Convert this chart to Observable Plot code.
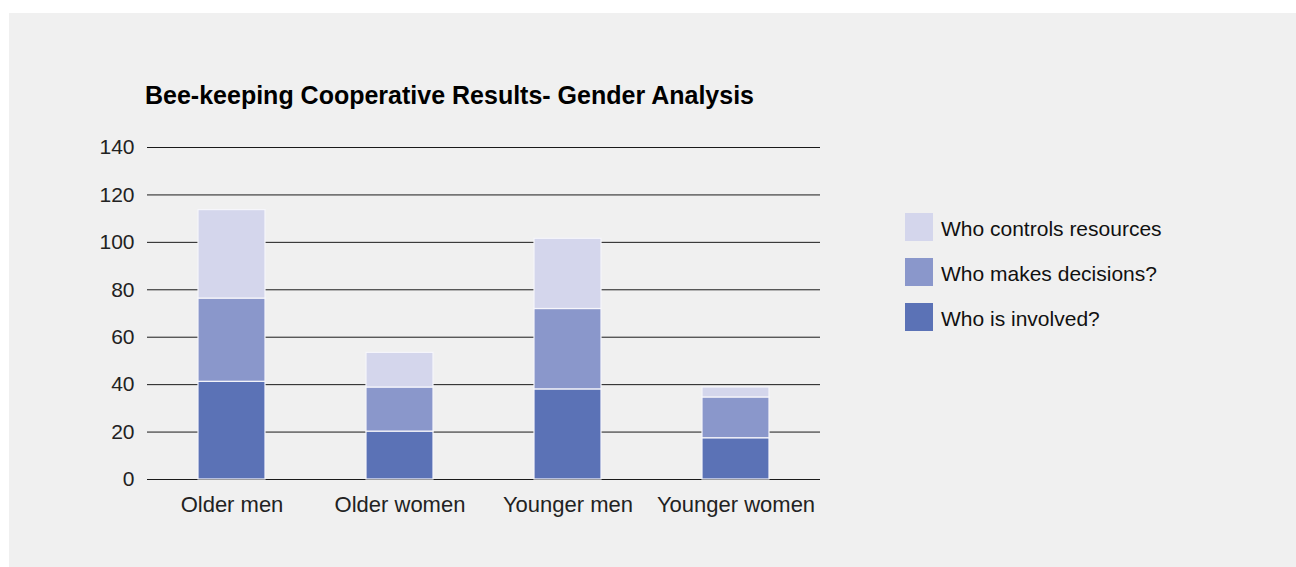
<!DOCTYPE html>
<html>
<head>
<meta charset="utf-8">
<script src="https://cdn.jsdelivr.net/npm/d3@7"></script>
<script src="https://cdn.jsdelivr.net/npm/@observablehq/plot@0.6"></script>
<style>
  html, body { margin: 0; padding: 0; background: #ffffff; }
  body { width: 1296px; height: 567px; position: relative; overflow: hidden; font-family: "Liberation Sans", Arial, sans-serif; }
  #panel { position: absolute; left: 9px; top: 13px; width: 1287px; height: 554px; background: #f0f0f0; }
  #title { position: absolute; left: 145px; top: 83px; font-size: 25px; line-height: 25px; font-weight: bold; color: #000; white-space: nowrap; }
  #chart { position: absolute; left: 0px; top: 130px; }
  #legend { position: absolute; left: 905px; top: 213px; }
  .item { display: flex; align-items: center; height: 28px; margin-bottom: 17px; }
  .sw { width: 28px; height: 28px; flex: none; }
  .lab { margin-left: 8px; font-size: 21px; color: #111; white-space: nowrap; position: relative; top: 2px; }
</style>
</head>
<body>
<div id="panel"></div>
<div id="title"></div>
<div id="chart"></div>
<div id="legend"></div>
<script>
const title = "Bee-keeping Cooperative Results- Gender Analysis";
const categories = ["Older men", "Older women", "Younger men", "Younger women"];
const seriesNames = ["Who is involved?", "Who makes decisions?", "Who controls resources"];
const involved = [41.2, 20.2, 38.0, 17.4];
const decisions = [35.1, 18.6, 33.9, 17.2];
const controls = [37.3, 14.6, 29.6, 4.2];
const seriesColors = ["#5b72b6", "#8a97cb", "#d4d6ec"];
const yTicks = [0, 20, 40, 60, 80, 100, 120, 140];
const legendOrder = ["Who controls resources", "Who makes decisions?", "Who is involved?"];

const seriesValues = [involved, decisions, controls];
const rows = [];
seriesNames.forEach((s, si) => {
  categories.forEach((c, ci) => rows.push({category: c, series: s, value: seriesValues[si][ci]}));
});

document.getElementById("title").textContent = title;

const chart = Plot.plot({
  width: 840,
  height: 400,
  marginLeft: 147,
  marginRight: 20,
  marginTop: 17,
  marginBottom: 51,
  style: { background: "transparent", fontFamily: "'Liberation Sans', Arial, sans-serif", fontSize: "21px", color: "#222", overflow: "visible" },
  x: { domain: categories, paddingInner: 0.6, paddingOuter: 0.3, label: null },
  y: { domain: [0, 140], label: null },
  color: { domain: seriesNames, range: seriesColors },
  marks: [
    Plot.ruleY(yTicks, { stroke: "#1a1a1a", strokeWidth: 1 }),
    Plot.barY(rows, Plot.stackY({ x: "category", y: "value", fill: "series", stroke: "#f6f6fb", strokeWidth: 1.2, order: null })),
    Plot.axisY({ ticks: yTicks, tickSize: 0, tickPadding: 13, label: null, tickFormat: d => String(d) }),
    Plot.axisX({ tickSize: 0, tickPadding: 17, label: null, fontSize: 22 })
  ]
});
document.getElementById("chart").appendChild(chart);

const legend = document.getElementById("legend");
legendOrder.forEach(name => {
  const item = document.createElement("div");
  item.className = "item";
  const sw = document.createElement("div");
  sw.className = "sw";
  sw.style.background = seriesColors[seriesNames.indexOf(name)];
  const lab = document.createElement("div");
  lab.className = "lab";
  lab.textContent = name;
  item.appendChild(sw);
  item.appendChild(lab);
  legend.appendChild(item);
});
</script>
</body>
</html>
